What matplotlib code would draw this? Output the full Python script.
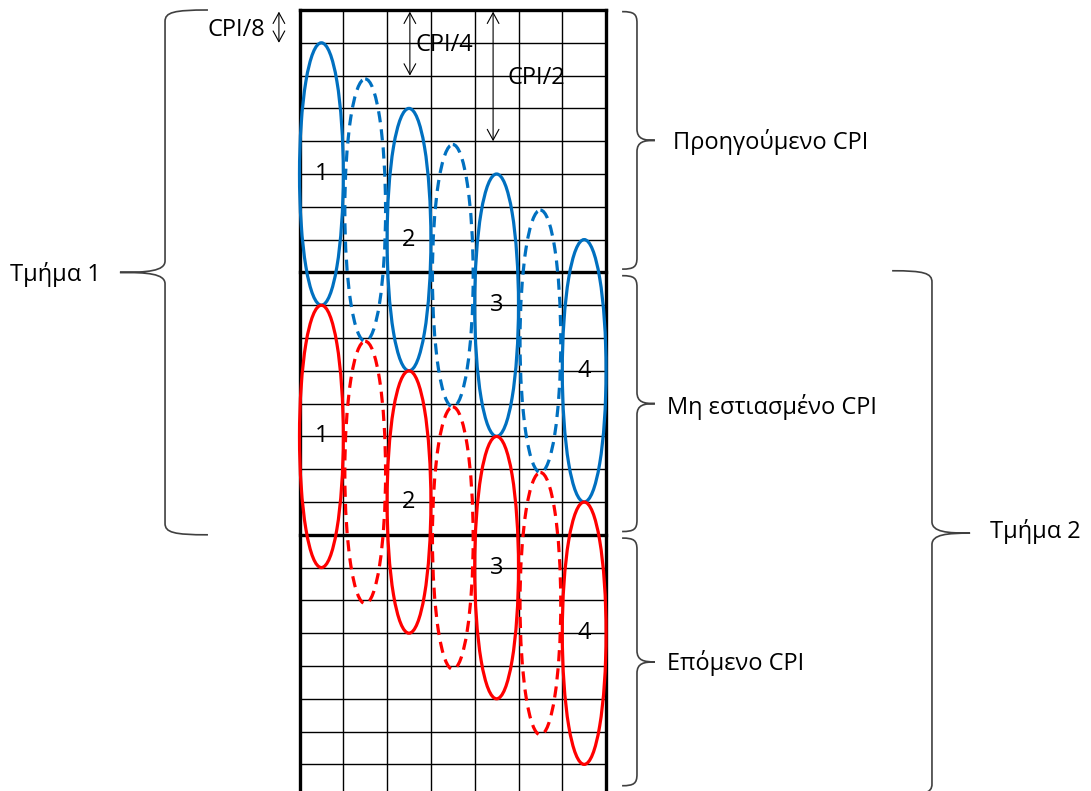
import matplotlib.pyplot as plt
from matplotlib.patches import Ellipse, PathPatch
from matplotlib.path import Path

plt.rcParams['font.family'] = ['Open Sans', 'DejaVu Sans']

# grid: 7 columns, rows of CPI/8 (8 rows = 1 CPI)
n_cols = 7
n_rows = 24
cpi_rows = 8

# beam positions (column, row of centre) for the first CPI
solid_cols = [0.5, 2.5, 4.5, 6.5]
solid_rows = [5, 7, 9, 11]
dashed_cols = [1.5, 3.5, 5.5]
dashed_rows = [6.1, 8.1, 10.1]
beam_labels = ["1", "2", "3", "4"]

blue = "#0070C0"
red = "#FF0000"

fig = plt.figure(figsize=(10.91, 7.91), dpi=100)
ax = fig.add_axes([0, 0, 1, 1])
ax.set_xlim(-299.5 / 43.8, (1091 - 299.5) / 43.8)
ax.set_ylim((791 - 10) / 32.8, -10 / 32.8)
ax.axis("off")

# grid
for c in range(n_cols + 1):
    lw = 2.4 if c in (0, n_cols) else 1.0
    ax.plot([c, c], [0, n_rows], color="black", lw=lw, zorder=1)
for r in range(n_rows + 1):
    lw = 2.4 if r % cpi_rows == 0 else 1.0
    ax.plot([0, n_cols], [r, r], color="black", lw=lw, zorder=1)

# beams: blue = previous CPI, red = shifted by one CPI
for color, shift in [(blue, 0), (red, cpi_rows)]:
    for c, r, lab in zip(solid_cols, solid_rows, beam_labels):
        ax.add_patch(Ellipse((c, r + shift), 1.0, cpi_rows, fill=False,
                             ec=color, lw=2.3, zorder=3))
        ax.text(c, r + shift, lab, ha="center", va="center", fontsize=17, zorder=4)
    for c, r in zip(dashed_cols, dashed_rows):
        ax.add_patch(Ellipse((c, r + shift), 0.93, cpi_rows, fill=False,
                             ec=color, lw=2.3, ls=(0, (3.5, 2.2)), zorder=3))


def brace(x, y0, y1, tip, end, r=0.35):
    ym = (y0 + y1) / 2
    verts = [(x + end, y0), (x + end * 0.2, y0), (x, y0 + r * 0.2), (x, y0 + r),
             (x, ym - r),
             (x, ym - r * 0.1), (x + tip * 0.4, ym), (x + tip, ym),
             (x + tip * 0.4, ym), (x, ym + r * 0.1), (x, ym + r),
             (x, y1 - r),
             (x, y1 - r * 0.2), (x + end * 0.2, y1), (x + end, y1)]
    codes = [Path.MOVETO, Path.CURVE4, Path.CURVE4, Path.CURVE4,
             Path.LINETO,
             Path.CURVE4, Path.CURVE4, Path.CURVE4,
             Path.CURVE4, Path.CURVE4, Path.CURVE4,
             Path.LINETO,
             Path.CURVE4, Path.CURVE4, Path.CURVE4]
    ax.add_patch(PathPatch(Path(verts, codes), fill=False, ec="#404040", lw=1.2))


brace(-3.07, 0, 16, -1.03, 0.98)
brace(7.705, 0.05, 7.9, 0.41, -0.34)
brace(7.705, 8.1, 15.9, 0.41, -0.34)
brace(7.705, 16.1, 23.65, 0.41, -0.34)
brace(14.44, 7.95, 23.95, 0.87, -0.91)

fs = 17
ax.text(-6.61, 8.05, "Τμήμα 1", ha="left", va="center", fontsize=fs)
ax.text(8.53, 4.02, "Προηγούμενο CPI", ha="left", va="center", fontsize=fs)
ax.text(8.39, 12.1, "Μη εστιασμένο CPI", ha="left", va="center", fontsize=fs)
ax.text(8.39, 19.9, "Επόμενο CPI", ha="left", va="center", fontsize=fs)
ax.text(15.76, 15.9, "Τμήμα 2", ha="left", va="center", fontsize=fs)

# spacing arrows
for xa, rows, lab, xt, yt in [(-0.47, 1, "CPI/8", -2.11, 0.61),
                              (2.52, 2, "CPI/4", 2.64, 1.07),
                              (4.42, 4, "CPI/2", 4.76, 2.07)]:
    ax.annotate("", xy=(xa, rows), xytext=(xa, 0.05),
                arrowprops=dict(arrowstyle="<->,head_length=0.55,head_width=0.3",
                                lw=0.8, color="black", mutation_scale=14,
                                shrinkA=0, shrinkB=0))
    ax.text(xt, yt, lab, ha="left", va="center", fontsize=fs)

fig.savefig("out.png", dpi=100)
